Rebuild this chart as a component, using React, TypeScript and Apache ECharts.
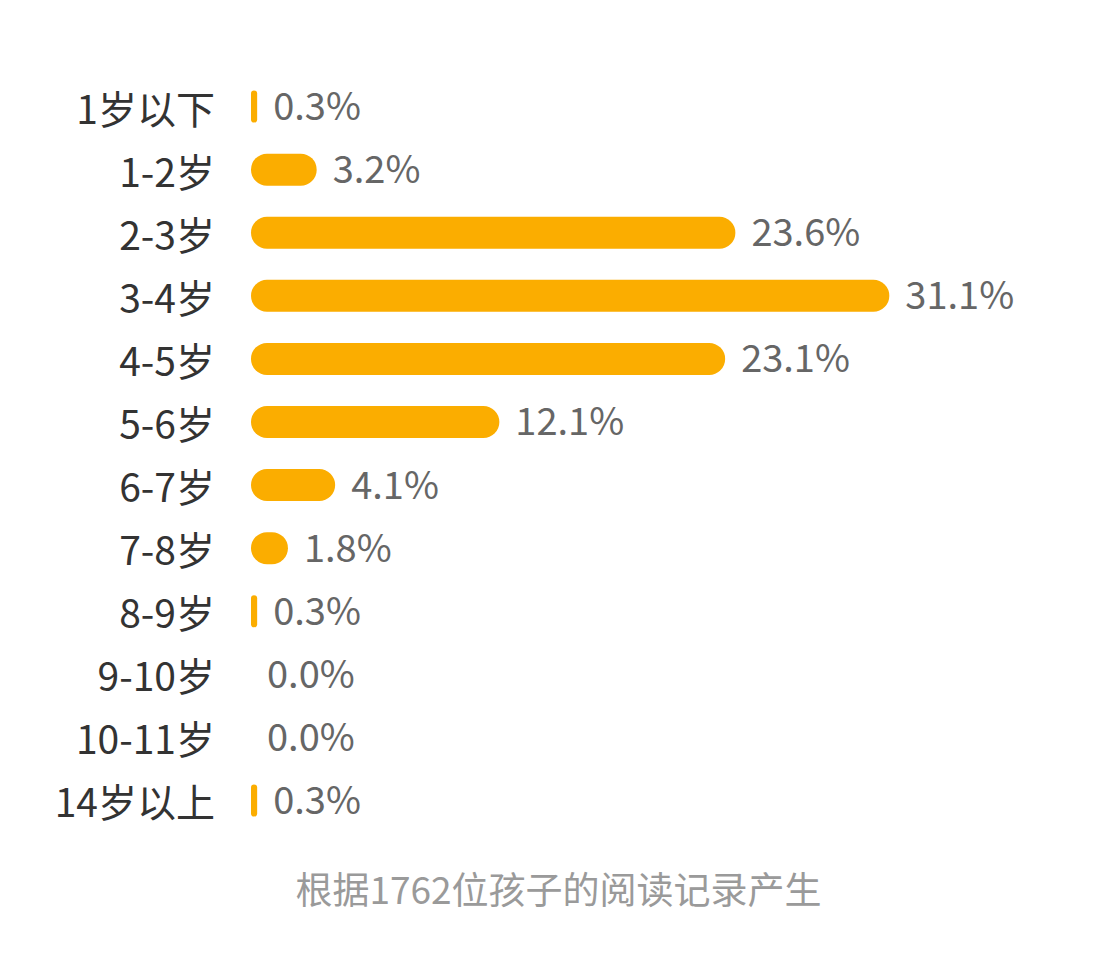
import * as echarts from "echarts";
import { useEffect, useRef } from "react";

const ageGroups = ["1岁以下", "1-2岁", "2-3岁", "3-4岁", "4-5岁", "5-6岁", "6-7岁", "7-8岁", "8-9岁", "9-10岁", "10-11岁", "14岁以上"];
const sharePercent = [0.3, 3.2, 23.6, 31.1, 23.1, 12.1, 4.1, 1.8, 0.3, 0.0, 0.0, 0.3];
const footNote = "根据1762位孩子的阅读记录产生";

const FONT = '"Noto Sans CJK SC", "Noto Sans", sans-serif';

export default function App() {
  const ref = useRef<HTMLDivElement | null>(null);

  useEffect(() => {
    if (!ref.current) return;
    const chart = echarts.init(ref.current, undefined, { renderer: "svg" });
    chart.setOption({
      animation: false,
      backgroundColor: "#ffffff",
      textStyle: { fontFamily: FONT },
      title: {
        text: footNote,
        left: "center",
        top: 864,
        textStyle: { fontFamily: FONT, fontSize: 37, fontWeight: "normal", color: "#9a9a9a" }
      },
      grid: { left: 251, right: 45, top: 75, bottom: 137 },
      xAxis: { type: "value", min: 0, max: 40, show: false },
      yAxis: {
        type: "category",
        inverse: true,
        data: ageGroups,
        axisLine: { show: false },
        axisTick: { show: false },
        axisLabel: { fontFamily: FONT, fontSize: 39, color: "#333333", margin: 36, padding: [0, 0, 5, 0] }
      },
      series: [
        {
          type: "bar",
          data: sharePercent,
          barWidth: 32,
          itemStyle: { color: "#fbad00", borderRadius: 16 },
          label: {
            show: true,
            position: "right",
            distance: 16,
            offset: [0, -3],
            fontFamily: FONT,
            fontSize: 38,
            color: "#666666",
            formatter: (p: { value: number }) => `${p.value.toFixed(1)}%`
          }
        }
      ]
    });
    return () => chart.dispose();
  }, []);

  return <div ref={ref} style={{ position: "absolute", left: 0, top: 0, width: 1117, height: 969 }} />;
}
